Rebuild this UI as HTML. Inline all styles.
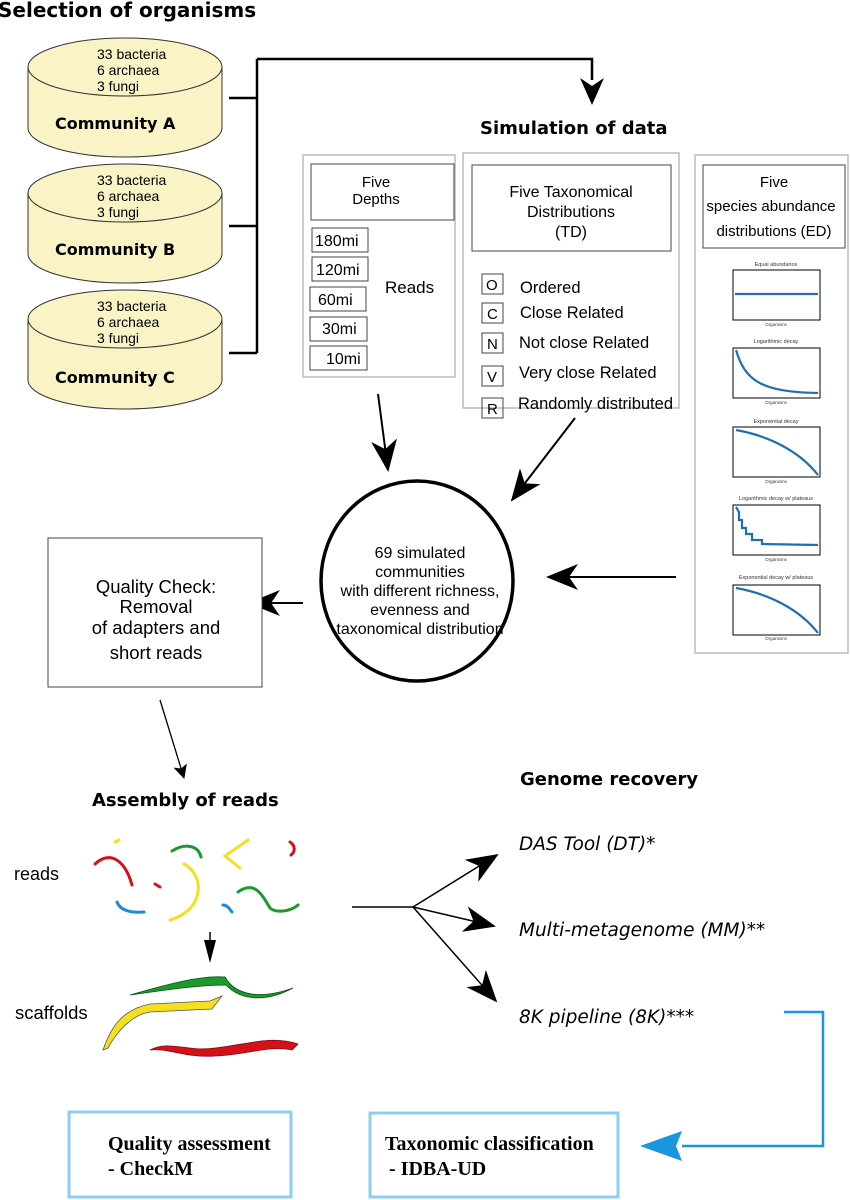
<!DOCTYPE html>
<html><head><meta charset="utf-8"><style>
html,body{margin:0;padding:0;background:#fff}
svg{display:block}
.s{font-family:"Liberation Sans",sans-serif}
.b{font-family:"DejaVu Sans","Liberation Sans",sans-serif;font-weight:bold}
.i{font-family:"DejaVu Sans","Liberation Sans",sans-serif;font-style:italic}
</style></head><body>
<svg width="850" height="1200" viewBox="0 0 850 1200" xmlns="http://www.w3.org/2000/svg">
<defs>
<marker id="ah" markerWidth="14" markerHeight="14" refX="13" refY="7" orient="auto" markerUnits="userSpaceOnUse"><path d="M0,0 L14,7 L0,14 L3,7 z" fill="#000"/></marker>
<marker id="big" markerWidth="32" markerHeight="26" refX="30" refY="13" orient="auto" markerUnits="userSpaceOnUse"><path d="M0,0 L32,13 L0,26 L9,13 z" fill="#000"/></marker>
</defs>
<text x="-2" y="17" class="b" font-size="20">Selection of organisms</text>

<g stroke="#333" stroke-width="1" fill="#f9f3c6">
<path d="M28,67 L28,128 A97,29 0 0 0 222,128 L222,67"/>
<ellipse cx="125" cy="67" rx="97" ry="29"/>
<path d="M28,193 L28,254 A97,29 0 0 0 222,254 L222,193"/>
<ellipse cx="125" cy="193" rx="97" ry="29"/>
<path d="M28,319 L28,380 A97,29 0 0 0 222,380 L222,319"/>
<ellipse cx="125" cy="319" rx="97" ry="29"/>
</g>
<g class="s" font-size="14">
<text x="97" y="59">33 bacteria</text><text x="97" y="75">6 archaea</text><text x="97" y="91">3 fungi</text>
<text x="97" y="185">33 bacteria</text><text x="97" y="201">6 archaea</text><text x="97" y="217">3 fungi</text>
<text x="97" y="311">33 bacteria</text><text x="97" y="327">6 archaea</text><text x="97" y="343">3 fungi</text>
</g>
<g class="b" font-size="16">
<text x="55" y="129">Community A</text><text x="55" y="255">Community B</text><text x="55" y="383">Community C</text>
</g>
<g stroke="#000" stroke-width="2.5" fill="none">
<path d="M229,98 H257 M229,226 H257 M229,353 H257 M257,59 V353 M257,59 H592 V80"/>
</g>
<path d="M580,78 L592,105 L604,78 L592,86 z" fill="#000"/>

<text x="480" y="134" class="b" font-size="18">Simulation of data</text>

<rect x="303" y="155" width="152" height="222" fill="none" stroke="#bbb" stroke-width="1.5"/>
<rect x="311" y="164" width="143" height="56" fill="none" stroke="#444"/>
<text x="376" y="187" class="s" font-size="15" text-anchor="middle">Five</text>
<text x="376" y="204" class="s" font-size="15" text-anchor="middle">Depths</text>
<g fill="none" stroke="#444">
<rect x="312" y="228" width="56" height="24"/><rect x="312" y="257" width="56" height="24"/>
<rect x="310" y="287" width="56" height="24"/><rect x="310" y="317" width="57" height="24"/><rect x="310" y="346" width="57" height="24"/>
</g>
<g class="s" font-size="16">
<text x="315" y="246">180mi</text><text x="316" y="275">120mi</text><text x="318" y="305">60mi</text><text x="322" y="334">30mi</text><text x="326" y="364">10mi</text>
</g>
<text x="385" y="293" class="s" font-size="17">Reads</text>

<rect x="463" y="153" width="216" height="255" fill="none" stroke="#bbb" stroke-width="1.5"/>
<rect x="472" y="165" width="199" height="86" fill="none" stroke="#444"/>
<g class="s" font-size="16" text-anchor="middle">
<text x="571" y="197">Five Taxonomical</text><text x="571" y="217">Distributions</text><text x="571" y="237">(TD)</text>
</g>
<g fill="none" stroke="#444">
<rect x="482" y="274" width="21" height="20"/><rect x="482" y="303" width="21" height="20"/><rect x="482" y="333" width="21" height="20"/><rect x="482" y="366" width="21" height="20"/><rect x="482" y="398" width="21" height="20"/>
</g>
<g class="s" font-size="15">
<text x="486" y="290">O</text><text x="487" y="319">C</text><text x="487" y="349">N</text><text x="487" y="382">V</text><text x="487" y="414">R</text>
</g>
<g class="s" font-size="16.5">
<text x="520" y="293">Ordered</text><text x="520" y="318">Close Related</text><text x="519" y="348">Not close Related</text><text x="519" y="378">Very close Related</text><text x="518" y="409">Randomly distributed</text>
</g>

<rect x="695" y="155" width="153" height="498" fill="none" stroke="#bbb" stroke-width="1.5"/>
<rect x="703" y="165" width="142" height="83" fill="none" stroke="#444"/>
<g class="s" font-size="15" text-anchor="middle">
<text x="774" y="187">Five</text><text x="771" y="211">species abundance</text><text x="774" y="236">distributions (ED)</text>
</g>
<g class="s" font-size="5.5" fill="#333" text-anchor="middle">
<text x="776" y="266">Equal abundance</text>
<text x="776" y="343">Logarithmic decay</text>
<text x="776" y="423">Exponential decay</text>
<text x="776" y="500">Logarithmic decay w/ plateaus</text>
<text x="776" y="579">Exponential decay w/ plateaus</text>
</g>
<g fill="none" stroke="#000" stroke-width="1">
<rect x="733" y="270" width="87" height="50"/>
<rect x="733" y="348" width="87" height="50"/>
<rect x="733" y="427" width="87" height="50"/>
<rect x="733" y="505" width="87" height="50"/>
<rect x="733" y="585" width="87" height="50"/>
</g>
<g fill="none" stroke="#1f6fb4" stroke-width="2.2">
<path d="M735,294 H818"/>
<path d="M736,350 C745,380 760,392 818,393"/>
<path d="M736,430 C770,436 800,452 818,475"/>
<path d="M736,507 L739,512 L739,520 L742,520 L742,528 L746,528 L746,534 L752,534 L752,540 L762,540 L762,544 L818,545"/>
<path d="M736,588 C770,594 800,610 818,633"/>
</g>
<g class="s" font-size="4.5" fill="#333" text-anchor="middle">
<text x="776" y="326">Organisms</text><text x="776" y="404">Organisms</text>
<text x="776" y="483">Organisms</text><text x="776" y="561">Organisms</text><text x="776" y="640">Organisms</text>
</g>

<ellipse cx="417" cy="581" rx="96" ry="100" fill="#fff" stroke="#000" stroke-width="3.5"/>
<g class="s" font-size="16" text-anchor="middle">
<text x="420" y="558">69 simulated</text><text x="420" y="577">communities</text>
<text x="420" y="596">with different richness,</text><text x="420" y="615">evenness and</text><text x="420" y="634">taxonomical distribution</text>
</g>
<g stroke="#000" stroke-width="2" fill="none">
<path d="M378,394 L388,470" marker-end="url(#big)"/>
<path d="M575,418 L512,500" marker-end="url(#big)"/>
<path d="M676,577 L548,577" marker-end="url(#big)"/>
<path d="M303,603 L250,603" marker-end="url(#big)"/>
</g>

<rect x="48" y="538" width="214" height="149" fill="#fff" stroke="#444"/>
<g class="s" font-size="18.5" text-anchor="middle">
<text x="156" y="593">Quality Check:</text><text x="156" y="613">Removal</text><text x="156" y="634">of adapters and</text><text x="156" y="659">short reads</text>
</g>
<path d="M160,700 L184,778" stroke="#000" stroke-width="1.3" marker-end="url(#ah)"/>

<text x="92" y="806" class="b" font-size="18">Assembly of reads</text>
<text x="520" y="785" class="b" font-size="18">Genome recovery</text>

<text x="14" y="880" class="s" font-size="18">reads</text>
<text x="15" y="1019" class="s" font-size="18.5">scaffolds</text>
<g fill="none" stroke-width="3" stroke-linecap="round">
<path d="M95,864 C110,850 125,860 132,885" stroke="#d4101a"/>
<path d="M115,842 L119,840" stroke="#f5e020"/>
<path d="M155,884 L160,887" stroke="#d4101a"/>
<path d="M172,851 C185,843 198,845 201,857" stroke="#1a9a2a"/>
<path d="M184,864 C205,875 205,910 170,920" stroke="#f5e020"/>
<path d="M248,840 L225,856 L240,868" stroke="#f5e020"/>
<path d="M290,842 C296,846 295,852 291,855" stroke="#d4101a"/>
<path d="M117,902 C120,910 130,913 144,912" stroke="#1a8ad8"/>
<path d="M223,905 C228,905 230,910 232,912" stroke="#1a8ad8"/>
<path d="M238,892 C255,880 262,895 270,908 C275,913 290,912 298,905" stroke="#1a9a2a"/>
</g>
<path d="M210,932 V942" stroke="#000" stroke-width="1.5" fill="none"/>
<path d="M204,940 L210,963 L216,940 z" fill="#000"/>
<path d="M130,995 C165,985 200,975 225,977 C235,995 260,1000 293,988 C265,1003 240,1000 226,985 C200,985 165,990 130,995 z" fill="#1a9a2a" stroke="#0b4f14" stroke-width="0.8"/>
<path d="M103,1050 C110,1030 120,1010 150,1004 L210,1001 L222,996 L212,1009 L150,1012 C130,1015 115,1035 108,1048 z" fill="#f5e020" stroke="#555" stroke-width="0.8"/>
<path d="M150,1050 C170,1040 185,1052 215,1048 C245,1045 270,1035 298,1044 L292,1050 C270,1045 245,1055 215,1056 C185,1058 170,1048 150,1050 z" fill="#d4101a" stroke="#8a0a10" stroke-width="0.8"/>

<g stroke="#000" stroke-width="1.5" fill="none">
<path d="M352,907 H413"/>
<path d="M413,907 L497,855" marker-end="url(#big)"/>
<path d="M413,907 L494,926" marker-end="url(#big)"/>
<path d="M413,907 L496,1001" marker-end="url(#big)"/>
</g>
<g class="i" font-size="18.5">
<text x="519" y="850">DAS Tool (DT)*</text>
<text x="519" y="936">Multi-metagenome (MM)**</text>
<text x="519" y="1023">8K pipeline (8K)***</text>
</g>
<path d="M784,1012 H823 V1146 H682" stroke="#1a96e0" stroke-width="2.5" fill="none"/>
<path d="M640,1146 L682,1131 L676,1146 L682,1161 z" fill="#1a96e0"/>

<rect x="69" y="1112" width="222" height="85" fill="none" stroke="#8fcdf0" stroke-width="3"/>
<rect x="370" y="1113" width="248" height="84" fill="none" stroke="#8fcdf0" stroke-width="3"/>
<g font-family="'Liberation Serif',serif" font-weight="bold" font-size="20">
<text x="108" y="1150">Quality assessment</text><text x="108" y="1175"> - CheckM</text>
<text x="385" y="1150">Taxonomic classification</text><text x="389" y="1175">- IDBA-UD</text>
</g>
</svg>
</body></html>
